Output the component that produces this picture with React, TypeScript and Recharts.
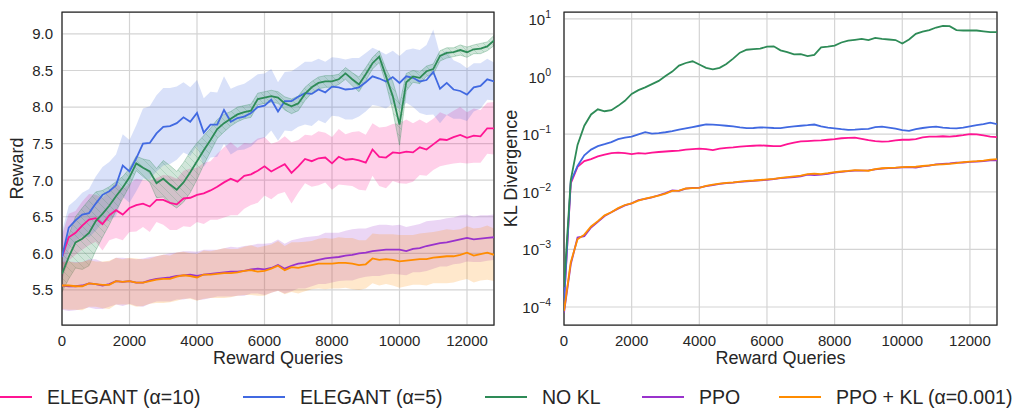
import {
  Area,
  CartesianGrid,
  ComposedChart,
  Line,
  ReferenceArea,
  XAxis,
  YAxis,
} from 'recharts'

// reward queries (x axis), one reading every 200 queries
const queries = [
  0, 200, 400, 600, 800, 1000, 1200, 1400, 1600, 1800,
  2000, 2200, 2400, 2600, 2800, 3000, 3200, 3400, 3600, 3800,
  4000, 4200, 4400, 4600, 4800, 5000, 5200, 5400, 5600, 5800,
  6000, 6200, 6400, 6600, 6800, 7000, 7200, 7400, 7600, 7800,
  8000, 8200, 8400, 8600, 8800, 9000, 9200, 9400, 9600, 9800,
  10000, 10200, 10400, 10600, 10800, 11000, 11200, 11400, 11600, 11800,
  12000, 12200, 12400, 12600, 12800,
]

// mean reward
const elegant10Reward = [
  5.95, 6.22, 6.28, 6.38, 6.46, 6.48, 6.4, 6.52, 6.59, 6.53,
  6.62, 6.66, 6.68, 6.64, 6.73, 6.73, 6.69, 6.67, 6.75, 6.76,
  6.8, 6.82, 6.86, 6.91, 6.97, 7.02, 6.98, 7.06, 7.08, 7.13,
  7.19, 7.12, 7.17, 7.22, 7.1, 7.19, 7.29, 7.26, 7.3, 7.31,
  7.23, 7.32, 7.28, 7.29, 7.27, 7.24, 7.42, 7.32, 7.31, 7.38,
  7.37, 7.39, 7.38, 7.45, 7.42, 7.49, 7.56, 7.55, 7.59, 7.62,
  7.58, 7.61, 7.6, 7.71, 7.71,
]
const elegant5Reward = [
  5.95, 6.35, 6.45, 6.53, 6.55, 6.68, 6.8, 6.85, 6.93, 7.2,
  7.12, 7.3, 7.5, 7.51, 7.64, 7.73, 7.74, 7.78, 7.86, 7.8,
  7.92, 7.65, 7.76, 7.76, 7.96, 7.8, 7.85, 7.87, 7.92, 8.0,
  8.02, 8.1, 7.94, 8.08, 8.08, 8.14, 8.19, 8.18, 8.24, 8.2,
  8.28, 8.27, 8.24, 8.25, 8.27, 8.34, 8.42, 8.39, 8.35, 8.41,
  8.33, 8.42, 8.4, 8.35, 8.37, 8.48, 8.25, 8.33, 8.24, 8.22,
  8.17, 8.27, 8.29, 8.38, 8.35,
]
const noKlReward = [
  5.72, 5.95, 6.15, 6.2, 6.28, 6.44, 6.54, 6.65, 6.78, 6.9,
  7.04, 7.23, 7.17, 7.12, 6.96, 7.02, 6.94, 6.87, 6.97, 7.11,
  7.26, 7.41, 7.55, 7.7, 7.78, 7.84, 7.9, 7.93, 7.95, 8.11,
  8.13, 8.15, 8.13, 8.05, 8.01, 8.05, 8.18, 8.27, 8.33, 8.35,
  8.35, 8.38, 8.46, 8.38, 8.31, 8.45, 8.6, 8.69, 8.42, 8.15,
  7.76, 8.34, 8.42, 8.4, 8.49, 8.52, 8.7, 8.74, 8.75, 8.78,
  8.75, 8.79, 8.8, 8.83, 8.91,
]
const ppoReward = [
  5.56, 5.55, 5.55, 5.56, 5.59, 5.58, 5.56, 5.58, 5.62, 5.61,
  5.62, 5.6, 5.6, 5.63, 5.65, 5.66, 5.67, 5.69, 5.7, 5.71,
  5.69, 5.71, 5.72, 5.73, 5.74, 5.75, 5.75, 5.76, 5.78, 5.79,
  5.78, 5.8, 5.84, 5.79, 5.83, 5.86, 5.87, 5.89, 5.91, 5.93,
  5.94, 5.95, 5.97, 5.98, 6.0, 6.01, 6.03, 6.04, 6.05, 6.05,
  6.05, 6.03, 6.06, 6.07, 6.1, 6.12, 6.14, 6.15, 6.17, 6.19,
  6.21, 6.19, 6.2, 6.21, 6.22,
]
const ppoKlReward = [
  5.56, 5.56, 5.55, 5.55, 5.59, 5.58, 5.57, 5.57, 5.62, 5.61,
  5.62, 5.6, 5.6, 5.62, 5.64, 5.65, 5.65, 5.68, 5.7, 5.69,
  5.67, 5.71, 5.71, 5.72, 5.73, 5.73, 5.74, 5.76, 5.77, 5.75,
  5.76, 5.79, 5.83, 5.77, 5.81, 5.8, 5.82, 5.84, 5.86, 5.86,
  5.86, 5.87, 5.87, 5.86, 5.84, 5.85, 5.93, 5.91, 5.92, 5.91,
  5.89, 5.9, 5.91, 5.92, 5.92, 5.94, 5.95, 5.96, 5.96, 5.98,
  6.01, 5.97, 5.99, 6.01, 5.98,
]

// half width of the shaded band around each reward curve
const elegant10Spread = [
  0.3, 0.32, 0.3, 0.33, 0.35, 0.32, 0.36, 0.34, 0.38, 0.35,
  0.33, 0.36, 0.32, 0.35, 0.3, 0.34, 0.37, 0.35, 0.38, 0.4,
  0.37, 0.42, 0.4, 0.45, 0.48, 0.5, 0.46, 0.45, 0.42, 0.44,
  0.4, 0.38, 0.36, 0.38, 0.42, 0.36, 0.33, 0.35, 0.37, 0.34,
  0.36, 0.38, 0.35, 0.37, 0.4, 0.38, 0.36, 0.4, 0.42, 0.39,
  0.41, 0.44, 0.4, 0.38, 0.36, 0.35, 0.37, 0.34, 0.36, 0.38,
  0.35, 0.37, 0.36, 0.35, 0.36,
]
const elegant5Spread = [
  0.35, 0.3, 0.28, 0.3, 0.33, 0.37, 0.38, 0.4, 0.42, 0.43,
  0.43, 0.45, 0.48, 0.5, 0.52, 0.53, 0.52, 0.5, 0.48, 0.47,
  0.45, 0.47, 0.45, 0.44, 0.46, 0.45, 0.44, 0.45, 0.46, 0.45,
  0.44, 0.42, 0.4, 0.4, 0.41, 0.41, 0.43, 0.44, 0.42, 0.42,
  0.4, 0.4, 0.41, 0.42, 0.4, 0.4, 0.39, 0.38, 0.37, 0.36,
  0.37, 0.36, 0.4, 0.43, 0.48, 0.58, 0.47, 0.44, 0.4, 0.38,
  0.36, 0.33, 0.31, 0.28, 0.26,
]
const noKlSpread = [
  0.25, 0.3, 0.35, 0.42, 0.45, 0.4, 0.32, 0.26, 0.2, 0.15,
  0.12, 0.1, 0.12, 0.15, 0.2, 0.25, 0.26, 0.25, 0.27, 0.28,
  0.25, 0.2, 0.16, 0.13, 0.12, 0.1, 0.1, 0.09, 0.09, 0.08,
  0.08, 0.08, 0.08, 0.09, 0.1, 0.1, 0.09, 0.08, 0.08, 0.08,
  0.08, 0.07, 0.08, 0.09, 0.1, 0.09, 0.08, 0.08, 0.1, 0.2,
  0.28, 0.12, 0.08, 0.08, 0.07, 0.07, 0.07, 0.07, 0.06, 0.07,
  0.07, 0.06, 0.07, 0.06, 0.07,
]
const ppoSpread = [
  0.33, 0.34, 0.33, 0.32, 0.33, 0.34, 0.32, 0.31, 0.32, 0.33,
  0.31, 0.32, 0.33, 0.32, 0.31, 0.32, 0.33, 0.32, 0.33, 0.32,
  0.33, 0.34, 0.33, 0.32, 0.33, 0.34, 0.33, 0.34, 0.33, 0.34,
  0.35, 0.34, 0.35, 0.34, 0.35, 0.34, 0.35, 0.34, 0.33, 0.35,
  0.34, 0.33, 0.34, 0.35, 0.34, 0.33, 0.34, 0.35, 0.34, 0.33,
  0.34, 0.33, 0.32, 0.33, 0.34, 0.33, 0.32, 0.33, 0.32, 0.33,
  0.32, 0.31, 0.32, 0.31, 0.31,
]
const ppoKlSpread = [
  0.32, 0.33, 0.32, 0.33, 0.32, 0.31, 0.32, 0.33, 0.32, 0.31,
  0.32, 0.33, 0.32, 0.31, 0.32, 0.33, 0.32, 0.33, 0.32, 0.31,
  0.32, 0.33, 0.32, 0.33, 0.34, 0.33, 0.32, 0.33, 0.34, 0.33,
  0.34, 0.33, 0.34, 0.33, 0.34, 0.35, 0.34, 0.33, 0.34, 0.35,
  0.34, 0.35, 0.34, 0.35, 0.34, 0.33, 0.34, 0.35, 0.34, 0.35,
  0.36, 0.35, 0.34, 0.35, 0.36, 0.35, 0.36, 0.37, 0.36, 0.35,
  0.36, 0.37, 0.36, 0.37, 0.36,
]

// KL divergence to the reference policy
const elegant10Kl = [
  1.2e-4, 0.014, 0.027, 0.034, 0.037, 0.041, 0.044, 0.047, 0.048, 0.047,
  0.045, 0.047, 0.046, 0.048, 0.049, 0.05, 0.051, 0.052, 0.054, 0.055,
  0.056, 0.055, 0.053, 0.056, 0.058, 0.059, 0.061, 0.062, 0.063, 0.064,
  0.063, 0.062, 0.062, 0.067, 0.071, 0.075, 0.076, 0.077, 0.078, 0.08,
  0.082, 0.085, 0.086, 0.087, 0.083, 0.079, 0.076, 0.074, 0.075, 0.078,
  0.08, 0.08, 0.082, 0.088, 0.091, 0.091, 0.092, 0.091, 0.093, 0.096,
  0.1, 0.099, 0.095, 0.091, 0.089,
]
const elegant5Kl = [
  1.2e-4, 0.015, 0.028, 0.043, 0.054, 0.062, 0.067, 0.073, 0.082, 0.087,
  0.091, 0.099, 0.108, 0.102, 0.104, 0.108, 0.113, 0.12, 0.126, 0.133,
  0.14, 0.148, 0.146, 0.144, 0.14, 0.136, 0.131, 0.127, 0.128, 0.131,
  0.13, 0.128, 0.127, 0.132, 0.136, 0.14, 0.143, 0.147, 0.136, 0.13,
  0.126, 0.122, 0.119, 0.12, 0.122, 0.124, 0.132, 0.135, 0.13, 0.125,
  0.118, 0.114, 0.122, 0.128, 0.133, 0.135, 0.13, 0.127, 0.126, 0.13,
  0.137, 0.143, 0.149, 0.158, 0.149,
]
const noKlKl = [
  2.2e-4, 0.016, 0.065, 0.14, 0.22, 0.27, 0.25, 0.26, 0.31, 0.38,
  0.5, 0.58, 0.65, 0.74, 0.84, 1.02, 1.22, 1.55, 1.72, 1.84,
  1.62, 1.42, 1.33, 1.42, 1.65, 2.05, 2.6, 2.92, 3.0, 3.05,
  3.3, 3.35, 2.85, 2.65, 2.42, 2.45, 2.27, 2.38, 3.2, 3.3,
  3.45, 3.9, 4.2, 4.35, 4.5, 4.3, 4.7, 4.5, 4.4, 4.3,
  3.75, 4.4, 5.5, 6.0, 6.4, 7.1, 7.6, 7.5, 6.4, 6.3,
  6.3, 6.3, 6.1, 5.9, 5.9,
]
const ppoKl = [
  8e-5, 5.5e-4, 1.6e-3, 1.7e-3, 2.4e-3, 3.0e-3, 3.8e-3, 4.4e-3, 5.1e-3, 5.8e-3,
  6.3e-3, 7.2e-3, 7.5e-3, 8.0e-3, 8.7e-3, 9.5e-3, 0.0106, 0.0104, 0.0113, 0.0117,
  0.0118, 0.0125, 0.0131, 0.0137, 0.0141, 0.0144, 0.0149, 0.0152, 0.0155, 0.0158,
  0.0161, 0.0166, 0.0172, 0.0176, 0.018, 0.0186, 0.0198, 0.0195, 0.0198, 0.0205,
  0.0215, 0.0222, 0.0228, 0.0233, 0.0232, 0.0236, 0.0245, 0.0252, 0.0258, 0.026,
  0.0265, 0.0268, 0.0262, 0.0276, 0.0285, 0.0298, 0.0306, 0.031, 0.032, 0.0322,
  0.033, 0.0335, 0.034, 0.035, 0.0352,
]
const ppoKlKl = [
  8.5e-5, 6e-4, 1.5e-3, 1.8e-3, 2.5e-3, 3.1e-3, 3.9e-3, 4.4e-3, 5.2e-3, 5.9e-3,
  6.3e-3, 7.0e-3, 7.6e-3, 8.1e-3, 8.6e-3, 9.3e-3, 0.0104, 0.0105, 0.0114, 0.0116,
  0.0117, 0.0127, 0.0133, 0.0139, 0.0143, 0.0146, 0.015, 0.0155, 0.0157, 0.016,
  0.0164, 0.0168, 0.0175, 0.018, 0.0185, 0.019, 0.0203, 0.0207, 0.0202, 0.021,
  0.022, 0.0225, 0.023, 0.0237, 0.0235, 0.0232, 0.0248, 0.0256, 0.026, 0.0262,
  0.0268, 0.027, 0.0272, 0.028, 0.0288, 0.0296, 0.03, 0.0305, 0.0315, 0.0328,
  0.0335, 0.034, 0.0348, 0.036, 0.037,
]

const xTicks = [0, 2000, 4000, 6000, 8000, 10000, 12000]
const rewardTicks = [5.5, 6.0, 6.5, 7.0, 7.5, 8.0, 8.5, 9.0]
const klTicks = [1e-4, 1e-3, 1e-2, 1e-1, 1, 10]

const series = [
  { key: 'e10', name: 'ELEGANT (α=10)', color: '#ff1493', reward: elegant10Reward, spread: elegant10Spread, kl: elegant10Kl },
  { key: 'e5', name: 'ELEGANT (α=5)', color: '#4169e1', reward: elegant5Reward, spread: elegant5Spread, kl: elegant5Kl },
  { key: 'nokl', name: 'NO KL', color: '#2e8b57', reward: noKlReward, spread: noKlSpread, kl: noKlKl },
  { key: 'ppo', name: 'PPO', color: '#9932cc', reward: ppoReward, spread: ppoSpread, kl: ppoKl },
  { key: 'ppokl', name: 'PPO + KL (α=0.001)', color: '#ff8c00', reward: ppoKlReward, spread: ppoKlSpread, kl: ppoKlKl },
]

const rewardRows = queries.map((x, i) => {
  const row: Record<string, number | number[]> = { x }
  series.forEach((s) => {
    row[s.key] = s.reward[i]
    row[s.key + 'Band'] = [s.reward[i] - s.spread[i], s.reward[i] + s.spread[i]]
  })
  return row
})

const klRows = queries.map((x, i) => {
  const row: Record<string, number> = { x }
  series.forEach((s) => {
    row[s.key] = s.kl[i]
  })
  return row
})

const INK = '#262626'
const GRID = '#d4d4d4'
const REWARD_DOMAIN: [number, number] = [5.02, 9.3]
const KL_DOMAIN: [number, number] = [4.87e-5, 13.2]
const legendLeft = [-10, 243, 485, 642, 779]

function VerticalTitle({ viewBox, text, offset }: any) {
  const cx = viewBox.x + offset
  const cy = viewBox.y + viewBox.height / 2
  return (
    <text
      x={cx}
      y={cy}
      dy='0.35em'
      textAnchor='middle'
      fontSize={18}
      fill={INK}
      transform={`rotate(-90, ${cx}, ${cy})`}
    >
      {text}
    </text>
  )
}

function BottomTitle({ viewBox }: any) {
  return (
    <text
      x={viewBox.x + viewBox.width / 2}
      y={viewBox.y + viewBox.height - 6}
      textAnchor='middle'
      fontSize={18}
      fill={INK}
    >
      Reward Queries
    </text>
  )
}

function LogTick({ x, y, payload }: any) {
  const exp = Math.round(Math.log10(payload.value))
  const label = exp < 0 ? `\u2212${-exp}` : `${exp}`
  return (
    <text x={x} y={y + 6} textAnchor='end' fill={INK} fontSize={15}>
      <tspan>10</tspan>
      <tspan dy={-7} fontSize={10.5}>
        {label}
      </tspan>
    </text>
  )
}

function QueryAxis() {
  return (
    <XAxis
      dataKey='x'
      type='number'
      domain={[0, 12800]}
      ticks={xTicks}
      allowDataOverflow
      tickLine={false}
      axisLine={false}
      tickSize={0}
      tickMargin={10}
      height={45}
      tick={{ fontSize: 15, fill: INK }}
      label={(p: any) => <BottomTitle viewBox={p.viewBox} />}
    />
  )
}

function RewardChart() {
  return (
    <ComposedChart
      width={500}
      height={370}
      data={rewardRows}
      margin={{ top: 12, right: 6, bottom: 0, left: 0 }}
    >
      <defs>
        <pattern id='hatchGreen' patternUnits='userSpaceOnUse' width='8' height='8'>
          <rect width='8' height='8' fill='#2e8b57' fillOpacity={0.22} />
          <path
            d='M-1,-1 L9,9 M-1,7 L1,9 M7,-1 L9,1'
            stroke='#2e8b57'
            strokeOpacity={0.28}
            strokeWidth={0.7}
          />
        </pattern>
      </defs>
      <CartesianGrid stroke={GRID} strokeWidth={1.2} />
      {QueryAxis()}
      <YAxis
        type='number'
        domain={REWARD_DOMAIN}
        ticks={rewardTicks}
        allowDataOverflow
        tickFormatter={(v: number) => v.toFixed(1)}
        tickLine={false}
        axisLine={false}
        tickSize={0}
        tickMargin={9}
        width={62}
        tick={{ fontSize: 15, fill: INK }}
        label={(p: any) => <VerticalTitle viewBox={p.viewBox} text='Reward' offset={17} />}
      />
      {series.map((s) =>
        s.key === 'nokl' ? (
          <Area
            key={s.key + 'Band'}
            type='linear'
            dataKey={s.key + 'Band'}
            fill='url(#hatchGreen)'
            fillOpacity={1}
            stroke={s.color}
            strokeOpacity={0.3}
            strokeWidth={1}
            dot={false}
            activeDot={false}
            isAnimationActive={false}
          />
        ) : (
          <Area
            key={s.key + 'Band'}
            type='linear'
            dataKey={s.key + 'Band'}
            fill={s.color}
            fillOpacity={0.2}
            stroke='none'
            dot={false}
            activeDot={false}
            isAnimationActive={false}
          />
        )
      )}
      {series.map((s) => (
        <Line
          key={s.key}
          type='linear'
          dataKey={s.key}
          stroke={s.color}
          strokeWidth={1.8}
          dot={false}
          activeDot={false}
          isAnimationActive={false}
        />
      ))}
      <ReferenceArea
        x1={0}
        x2={12800}
        y1={REWARD_DOMAIN[0]}
        y2={REWARD_DOMAIN[1]}
        fill='none'
        fillOpacity={0}
        stroke={INK}
        strokeWidth={1.25}
        strokeOpacity={1}
      />
    </ComposedChart>
  )
}

function KlChart() {
  return (
    <ComposedChart
      width={504}
      height={370}
      data={klRows}
      margin={{ top: 12, right: 7, bottom: 0, left: 0 }}
    >
      <CartesianGrid stroke={GRID} strokeWidth={1.2} />
      {QueryAxis()}
      <YAxis
        type='number'
        scale='log'
        domain={KL_DOMAIN}
        ticks={klTicks}
        allowDataOverflow
        tickLine={false}
        axisLine={false}
        tickSize={0}
        tickMargin={13}
        width={64}
        tick={<LogTick />}
        label={(p: any) => <VerticalTitle viewBox={p.viewBox} text='KL Divergence' offset={11} />}
      />
      {series.map((s) => (
        <Line
          key={s.key}
          type='linear'
          dataKey={s.key}
          stroke={s.color}
          strokeWidth={1.8}
          dot={false}
          activeDot={false}
          isAnimationActive={false}
        />
      ))}
      <ReferenceArea
        x1={0}
        x2={12800}
        y1={KL_DOMAIN[0]}
        y2={KL_DOMAIN[1]}
        fill='none'
        fillOpacity={0}
        stroke={INK}
        strokeWidth={1.25}
        strokeOpacity={1}
      />
    </ComposedChart>
  )
}

export default function App() {
  return (
    <div
      style={{
        position: 'absolute',
        left: 0,
        top: 0,
        width: 1020,
        height: 410,
        overflow: 'hidden',
        background: '#ffffff',
        fontFamily: '"Liberation Sans", Arial, sans-serif',
      }}
    >
      <div style={{ position: 'absolute', left: 0, top: 0 }}>
        <RewardChart />
      </div>
      <div style={{ position: 'absolute', left: 500, top: 0 }}>
        <KlChart />
      </div>
      {series.map((s, i) => (
        <div
          key={s.key}
          style={{
            position: 'absolute',
            left: legendLeft[i],
            top: 386,
            height: 22,
            display: 'flex',
            alignItems: 'center',
            whiteSpace: 'nowrap',
          }}
        >
          <div style={{ width: 42, height: 2, background: s.color, marginRight: 15 }} />
          <span style={{ fontSize: 19.5, lineHeight: '22px', color: INK }}>{s.name}</span>
        </div>
      ))}
    </div>
  )
}
